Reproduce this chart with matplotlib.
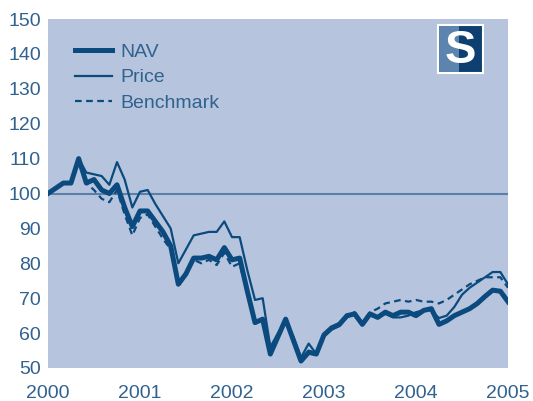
import matplotlib
matplotlib.use("Agg")
import matplotlib.pyplot as plt
import matplotlib.patches as patches
import numpy as np

plt.rcParams['font.family'] = ['Liberation Sans', 'DejaVu Sans']

# monthly values, Jan 2000 .. Jan 2005
nav = [100, 101.5, 103, 103, 110, 103, 104, 101, 100, 102.5, 96, 90.5,
       95, 95, 92, 89, 85, 74, 77, 81.5, 81.5, 82, 81, 84.5,
       81, 81.5, 72, 63, 64, 54, 59, 64, 58, 52, 54.5, 54,
       59.5, 61.5, 62.5, 65, 65.5, 62.5, 65.5, 64.5, 66, 65, 66, 66,
       65, 66.5, 67, 62.5, 63.5, 65, 66, 67, 68.5, 70.5, 72.3, 72,
       69]
price = [100, 101.5, 103, 103, 110, 106, 105.5, 105, 102.5, 109, 104, 96,
         100.5, 101, 97, 93.5, 90, 80, 84, 88, 88.5, 89, 89, 92,
         87.5, 87.5, 78, 69.5, 70, 56, 60, 63.5, 59, 53, 57, 54,
         59, 61, 62, 64.5, 65.5, 62.5, 65, 64.5, 65.5, 64.5, 64.5, 65,
         66, 66.5, 66.5, 64.3, 65, 67.5, 71, 73, 74.5, 76, 77.5, 77.5,
         74]
benchmark = [100, 101.5, 103, 103, 109, 103, 101, 98.5, 97.5, 101, 94, 88,
             93, 94, 90.5, 87, 84, 74, 76.5, 81, 80, 81, 79.5, 83,
             79, 80, 71, 63, 64, 54, 59, 63.5, 58, 52.5, 55, 54,
             59, 61.5, 62.5, 65, 66, 63, 66, 67, 68.5, 69, 69.5, 69,
             69.5, 69, 69, 68.5, 69.5, 71, 72.5, 74, 75, 76, 76, 76,
             73]
years = [2000, 2001, 2002, 2003, 2004, 2005]
yticks = [50, 60, 70, 80, 90, 100, 110, 120, 130, 140, 150]

dates = 2000 + np.arange(len(nav)) / 12.0

line_col = '#0b4a7e'
text_col = '#30628f'

fig = plt.figure(figsize=(5.33, 4.01), dpi=100)
ax = fig.add_axes([48 / 533, 33 / 401, 460 / 533, 349 / 401])
ax.set_facecolor('#b6c5dd')

ax.axhline(100, color='#5b80a8', lw=1.5, zorder=1)
ax.plot(dates, benchmark, color=line_col, lw=1.6, ls=(0, (3, 2)), label='Benchmark', zorder=2)
ax.plot(dates, price, color=line_col, lw=1.6, label='Price', zorder=3)
ax.plot(dates, nav, color=line_col, lw=3.6, label='NAV', zorder=4)

ax.set_xlim(2000, 2005)
ax.set_ylim(50, 150)
ax.set_xticks(years)
ax.set_xticklabels([str(y) for y in years])
ax.set_yticks(yticks)
ax.tick_params(length=0, labelsize=14, labelcolor=text_col)
ax.tick_params(axis='x', pad=12)
ax.tick_params(axis='y', pad=5)
for s in ax.spines.values():
    s.set_visible(False)

h, l = ax.get_legend_handles_labels()
order = [2, 1, 0]
leg = ax.legend([h[i] for i in order], [l[i] for i in order], loc='upper left',
                bbox_to_anchor=(0.059, 0.93), frameon=False, fontsize=14,
                borderpad=0, borderaxespad=0,
                handlelength=1.9, handletextpad=0.45, labelspacing=0.4,
                labelcolor=text_col)

# logo
lx, ly, lw_, lh = 438 / 533, (401 - 73) / 401, 45 / 533, 48 / 401
fig.patches.append(patches.Rectangle((lx, ly), lw_, lh, transform=fig.transFigure,
                                     facecolor='#0d3f70', edgecolor='white', lw=1.5))
fig.patches.append(patches.Rectangle((lx + 0.002, ly + 0.003), lw_ * 0.45, lh - 0.006,
                                     transform=fig.transFigure, facecolor='#5d84ae', lw=0))
fig.text(lx + lw_ / 2, ly + lh / 2 - 0.005, 'S', color='white', fontsize=34,
         fontweight='bold', ha='center', va='center')

fig.savefig('out.png', dpi=100)
